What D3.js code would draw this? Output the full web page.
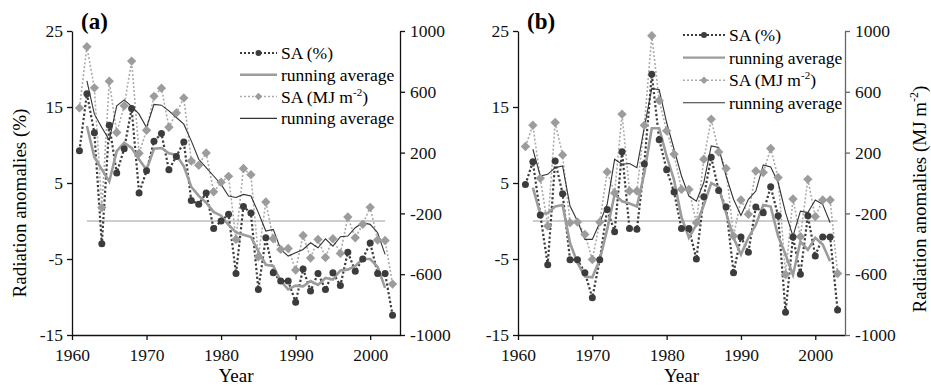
<!DOCTYPE html>
<html>
<head>
<meta charset="utf-8">
<script src="https://cdn.jsdelivr.net/npm/d3@7"></script>
<style>
  body { margin: 0; background: #fff; }
  text { font-family: "Liberation Serif", "Times New Roman", serif; }
</style>
</head>
<body>
<script>
// years of the yearly values and of the running averages
const yearsSA = d3.range(1961, 2004);
const yearsRA = d3.range(1962, 2003);

// panel (a)
const saPctA = [9.25, 16.75, 11.6, -3.0, 12.6, 6.3, 9.5, 14.8, 3.7, 6.6, 10.5, 11.5, 6.75, 8.5, 10.4, 2.7, 2.2, 3.7, -1.0, 0.0,
  0.9, -6.9, 1.9, 1.05, -9.0, -2.2, -6.8, -7.9, -7.9, -10.7, -6.3, -9.2, -6.9, -9.0, -6.8, -8.5, -4.1, -6.6, -5.0, -2.9,
  -6.9, -6.9, -12.4];
const saMjA = [494, 896, 626, -162, 670, 332, 508, 802, 196, 347, 570, 624, 367, 461, 560, 145, 117, 198, -58, 5,
  44, -371, 95, 55, -485, -125, -367, -437, -431, -573, -345, -494, -371, -490, -367, -463, -224, -360, -272, -160,
  -375, -378, -665];
const raPctA = [12.5, 8.4, 6.8, 5.2, 9.2, 10.3, 9.6, 8.1, 6.75, 9.5, 9.6, 8.9, 8.7, 7.2, 4.5, 3.3, 2.4, 1.2, 0.7,
  -0.5, -1.5, -1.8, -2.1, -4.0, -5.75, -5.9, -7.9, -9.0, -8.5, -8.6, -7.9, -8.4, -7.5, -7.7, -6.5, -6.4, -5.9, -5.0,
  -5.0, -6.05, -8.8];
const raMjA = [672, 453, 365, 283, 508, 547, 504, 453, 365, 517, 512, 475, 431, 387, 277, 156, 101, 46, -9,
  -86, -95, -75, -85, -195, -316, -305, -437, -481, -459, -437, -393, -426, -367, -415, -353, -349, -294, -261,
  -272, -327, -470];

// panel (b)
const saPctB = [4.8, 7.8, 0.8, -5.75, 7.9, 3.6, -5.1, -5.1, -6.8, -10.1, -5.1, 1.5, -1.4, 9.1, -1.0, -1.1, 7.5, 19.3, 10.7, 6.75,
  3.8, -1.0, -1.0, -5.0, 3.2, 8.4, 4.0, 1.85, -6.8, -2.1, -4.1, 1.85, 1.1, 4.5, 0.7, -12.0, -2.1, -7.0, 0.7, -4.6,
  -2.1, -2.1, -11.7];
const saMjB = [240, 380, 31, -283, 398, 185, -261, -257, -338, -503, -257, 73, -65, 453, -53, -53, 380, 969, 543, 343,
  189, -42, -42, -261, 156, 420, 204, 95, -349, -112, -206, 79, 69, 227, 36, -602, -105, -353, 24, -221,
  -112, -112, -595];
const raPctB = [4.4, 0.9, 1.05, 1.9, 2.1, -2.9, -5.5, -7.3, -7.4, -5.1, -1.1, 3.5, 2.6, 2.3, 1.9, 6.3, 12.2, 12.2, 8.5,
  5.4, 0.5, -2.2, -0.5, 2.1, 5.0, 4.5, 1.05, -2.2, -4.4, -2.2, -0.5, 2.1, 1.9, -2.0, -4.4, -7.1, -2.7, -3.8,
  -2.2, -3.1, -5.3];
const raMjB = [222, 46, 57, 101, 112, -152, -250, -371, -371, -261, -140, 156, 123, 128, 101, 365, 622, 613, 398,
  222, 46, -86, -120, 3, 244, 233, 46, -107, -213, -107, -53, 119, 105, 3, -195, -349, -185, -195,
  -112, -140, -261];

// ticks
const xTicks = [1960, 1970, 1980, 1990, 2000];
const pctTicks = [25, 15, 5, -5, -15];
const mjTicks = [1000, 600, 200, -200, -600, -1000];
const legendLabels = ['SA (%)', 'running average', 'SA (MJ m', 'running average'];

const width = 931, height = 387;
const plotTop = 31, plotBottom = 335;
const darkCol = '#3c3c3c', grayCol = '#9c9c9c';
const plain = d => String(d);

const svg = d3.select('body').append('svg')
  .attr('width', width)
  .attr('height', height);

function drawPanel(p) {
  const g = svg.append('g');
  const x = d3.scaleLinear().domain([1960, 2004]).range([p.x0, p.x1]);
  const yL = d3.scaleLinear().domain([-15, 25]).range([plotBottom, plotTop]);
  const yR = d3.scaleLinear().domain([-1000, 1000]).range([plotBottom, plotTop]);

  // zero line
  g.append('line')
    .attr('x1', x(1962)).attr('x2', x(p.zeroEnd))
    .attr('y1', yL(0)).attr('y2', yL(0))
    .attr('stroke', grayCol).attr('stroke-width', 1.2);

  const lineP = d3.line().x(d => x(d[0])).y(d => yL(d[1]));
  const lineM = d3.line().x(d => x(d[0])).y(d => yR(d[1]));

  const saP = yearsSA.map((yr, i) => [yr, p.saPct[i]]);
  const saM = yearsSA.map((yr, i) => [yr, p.saMj[i]]);
  const raP = yearsRA.map((yr, i) => [yr, p.raPct[i]]);
  const raM = yearsRA.map((yr, i) => [yr, p.raMj[i]]);

  g.append('path').datum(saM).attr('d', lineM)
    .attr('fill', 'none').attr('stroke', '#ababab').attr('stroke-width', 1.6).attr('stroke-dasharray', '2,2');
  g.append('path').datum(saP).attr('d', lineP)
    .attr('fill', 'none').attr('stroke', darkCol).attr('stroke-width', 2.2).attr('stroke-dasharray', '2.2,2.2');
  g.append('path').datum(raP).attr('d', lineP)
    .attr('fill', 'none').attr('stroke', grayCol).attr('stroke-width', 2.6);
  g.append('path').datum(raM).attr('d', lineM)
    .attr('fill', 'none').attr('stroke', '#333').attr('stroke-width', 1.1);

  const diamond = d3.symbol().type(d3.symbolDiamond2).size(56);
  g.selectAll('.dia').data(saM).enter().append('path')
    .attr('class', 'dia')
    .attr('d', diamond)
    .attr('transform', d => 'translate(' + x(d[0]) + ',' + yR(d[1]) + ')')
    .attr('fill', grayCol);
  g.selectAll('.dot').data(saP).enter().append('circle')
    .attr('class', 'dot')
    .attr('cx', d => x(d[0]))
    .attr('cy', d => yL(d[1]))
    .attr('r', 3.5)
    .attr('fill', darkCol);

  // axes
  const ax = g.append('g').attr('transform', 'translate(0,' + plotBottom + ')')
    .call(d3.axisBottom(x).tickValues(xTicks).tickFormat(plain).tickSize(5).tickSizeOuter(0));
  const al = g.append('g').attr('transform', 'translate(' + p.x0 + ',0)')
    .call(d3.axisLeft(yL).tickValues(pctTicks).tickFormat(plain).tickSize(5).tickSizeOuter(0));
  const ar = g.append('g').attr('transform', 'translate(' + p.x1 + ',0)')
    .call(d3.axisRight(yR).tickValues(mjTicks).tickFormat(plain).tickSize(5).tickSizeOuter(0));
  [ax, al, ar].forEach(a => {
    a.attr('font-family', null);
    a.selectAll('text').attr('font-size', 17.5).attr('fill', '#111');
    a.selectAll('line, path').attr('stroke', '#111').attr('stroke-width', 1.3);
  });
  ar.selectAll('line, path').attr('stroke', p.rightCol);
  ax.selectAll('text').attr('dy', '1em');
  ar.selectAll('text').attr('x', 10);
  al.selectAll('text').attr('x', -9);

  // panel letter
  g.append('text').attr('x', p.x0 + 9).attr('y', 29)
    .attr('font-size', 23).attr('font-weight', 'bold').text(p.letter);

  // x title
  g.append('text').attr('x', (p.x0 + p.x1) / 2).attr('y', 382)
    .attr('text-anchor', 'middle').attr('font-size', 19).text('Year');

  // legend
  const lg = g.append('g');
  legendLabels.forEach((lab, i) => {
    const cy = p.legY + i * p.legStep;
    const row = lg.append('g');
    const ln = row.append('line')
      .attr('x1', p.legX).attr('x2', p.legX + p.legW)
      .attr('y1', cy).attr('y2', cy);
    if (i === 0) {
      ln.attr('stroke', darkCol).attr('stroke-width', 2).attr('stroke-dasharray', '2,2');
      row.append('circle').attr('cx', p.legX + p.legW / 2).attr('cy', cy).attr('r', 3).attr('fill', darkCol);
    } else if (i === 1) {
      ln.attr('stroke', grayCol).attr('stroke-width', 2.4);
    } else if (i === 2) {
      ln.attr('stroke', '#ababab').attr('stroke-width', 1.5).attr('stroke-dasharray', '2,2');
      row.append('path').attr('d', d3.symbol().type(d3.symbolDiamond2).size(36))
        .attr('transform', 'translate(' + (p.legX + p.legW / 2) + ',' + cy + ')')
        .attr('fill', grayCol);
    } else {
      ln.attr('stroke', '#333').attr('stroke-width', 1.1);
    }
    const t = row.append('text').attr('x', p.legX + p.legW + 4).attr('y', cy + 6)
      .attr('font-size', 17.5).text(lab);
    if (i === 2) {
      t.append('tspan').attr('font-size', 11).attr('dy', -7).text('-2');
      t.append('tspan').attr('dy', 7).text(')');
    }
  });
}

drawPanel({ letter: '(a)', x0: 72, x1: 400, saPct: saPctA, saMj: saMjA, raPct: raPctA, raMj: raMjA,
  zeroEnd: 2002, rightCol: '#111', legX: 240, legW: 37, legY: 53, legStep: 21.8 });
drawPanel({ letter: '(b)', x0: 518, x1: 845, saPct: saPctB, saMj: saMjB, raPct: raPctB, raMj: raMjB,
  zeroEnd: 2003, rightCol: '#666', legX: 683, legW: 42, legY: 35, legStep: 22.6 });

// y titles
svg.append('text')
  .attr('transform', 'translate(26,203) rotate(-90)')
  .attr('text-anchor', 'middle').attr('font-size', 19)
  .text('Radiation anomalies (%)');

const rt = svg.append('text')
  .attr('transform', 'translate(926,199) rotate(-90)')
  .attr('text-anchor', 'middle').attr('font-size', 19)
  .text('Radiation anomalies (MJ m');
rt.append('tspan').attr('font-size', 12).attr('dy', -8).text('-2');
rt.append('tspan').attr('dy', 8).text(')');
</script>
</body>
</html>
